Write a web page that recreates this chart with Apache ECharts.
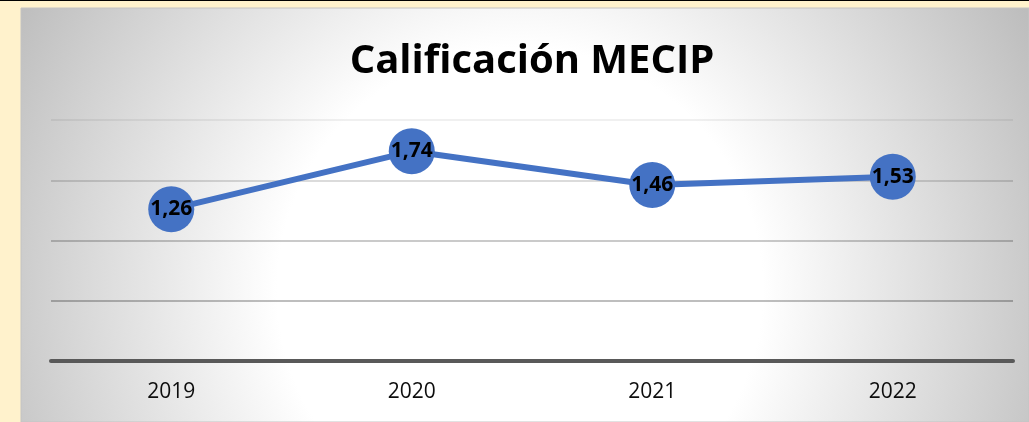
<!DOCTYPE html>
<html>
<head>
<meta charset="utf-8">
<script src="https://cdn.jsdelivr.net/npm/echarts@6/dist/echarts.min.js"></script>
<style>
html,body{margin:0;padding:0;background:#FFF2CC;}
#chart{width:1029px;height:422px;}
</style>
</head>
<body>
<div id="chart"></div>
<script>
const titleText = 'Calificación MECIP';
const categories = ['2019', '2020', '2021', '2022'];
const values = [1.26, 1.74, 1.46, 1.53];
const yTicks = [0, 0.5, 1, 1.5, 2];

const chart = echarts.init(document.getElementById('chart'), null, {renderer: 'canvas'});
const option = {
  backgroundColor: '#FFF2CC',
  animation: false,
  graphic: [
    {type: 'rect', z: -10, shape: {x: 0, y: 0, width: 1029, height: 1}, style: {fill: '#000'}},
    {type: 'rect', z: -10, shape: {x: 21, y: 8, width: 1008, height: 414},
      style: {fill: new echarts.graphic.RadialGradient(520, 290, 578, [
        {offset: 0, color: '#ffffff'},
        {offset: 0.42, color: '#ffffff'},
        {offset: 1, color: '#bdbdbd'}
      ], true), stroke: '#c4c4c4', lineWidth: 1}},
    {type: 'text', z: 10, x: 532, y: 62,
      style: {text: titleText, font: 'bold 40px "Open Sans"', fill: '#000', textAlign: 'center', textVerticalAlign: 'middle'}}
  ],
  grid: {left: 51, right: 16, top: 120, bottom: 61, containLabel: false},
  xAxis: {
    type: 'category',
    data: categories,
    boundaryGap: true,
    axisLine: {show: true, lineStyle: {color: '#595959', width: 4}},
    axisTick: {show: false},
    axisLabel: {color: '#0d0d0d', fontFamily: 'Open Sans', fontSize: 21, margin: 21}
  },
  yAxis: {
    type: 'value',
    min: yTicks[0],
    max: yTicks[yTicks.length - 1],
    interval: 0.5,
    axisLine: {show: false},
    axisTick: {show: false},
    axisLabel: {show: false},
    splitLine: {show: true, lineStyle: {width: 1.5, color: ['rgba(0,0,0,0)', 'rgba(0,0,0,0.34)', 'rgba(0,0,0,0.28)', 'rgba(0,0,0,0.19)', 'rgba(0,0,0,0.08)']}}
  },
  series: [{
    type: 'line',
    data: values,
    symbol: 'circle',
    symbolSize: 46,
    lineStyle: {color: '#4472C4', width: 6},
    itemStyle: {color: '#4472C4'},
    label: {
      show: true,
      position: 'inside',
      formatter: p => String(p.value).replace('.', ','),
      color: '#000',
      fontFamily: 'Open Sans',
      fontWeight: 'bold',
      fontSize: 21
    },
    z: 5
  }]
};
chart.setOption(option);
</script>
</body>
</html>
